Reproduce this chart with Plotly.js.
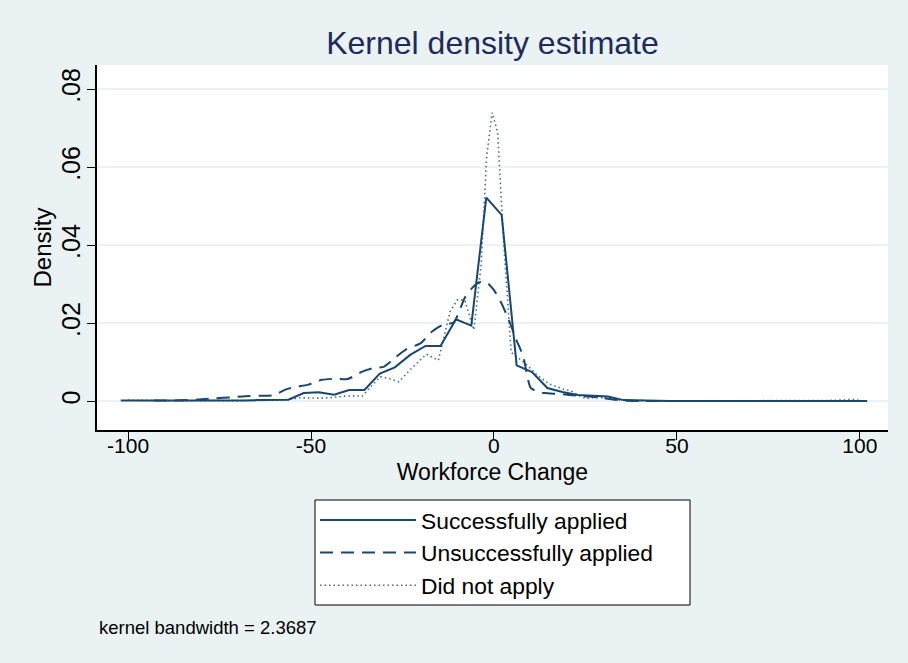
<!DOCTYPE html>
<html>
<head>
<meta charset="utf-8">
<script src="https://cdn.plot.ly/plotly-3.0.1.min.js"></script>
<style>html,body{margin:0;padding:0;background:#EAF2F3;}</style>
</head>
<body>
<div id="chart" style="width:908px;height:663px;"></div>
<script>
// Series names
var seriesNames = ['Successfully applied', 'Unsuccessfully applied', 'Did not apply'];

// Successfully applied (solid)
var xSuccess = [-102,-97.8,-93.7,-89.5,-85.3,-81.2,-77,-72.9,-68.7,-64.5,-60.4,-56.2,-52,-47.9,-43.7,-39.6,-35.4,-31.2,-27.1,-22.9,-18.7,-14.6,-10.4,-6.2,-2.1,2.1,6.2,10.4,14.6,18.7,22.9,27.1,31.2,35.4,39.6,43.7,47.9,52,56.2,60.4,64.5,68.7,72.9,77,81.2,85.3,89.5,93.7,97.8,102];
var ySuccess = [0.0002,0.0002,0.0001,0.0001,0.0001,0.0001,0.0001,0.0002,0.0002,0.0003,0.0004,0.0004,0.0021,0.0023,0.0017,0.0029,0.0029,0.0071,0.0087,0.0119,0.0142,0.0142,0.0210,0.0194,0.0522,0.0478,0.0092,0.0075,0.0034,0.0024,0.0016,0.0014,0.0012,0.0003,0.0002,0.0001,0.0001,0.0001,0.0001,0.0001,0.0001,0.0001,0.0001,0.0001,0.0001,0.0001,0.0001,0.0001,0.0001,0.0001];

// Unsuccessfully applied (dashed)
var xUnsucc = [-93,-88,-84,-80,-76,-72,-68,-64,-60,-57,-54,-51,-47,-43,-40,-36,-33,-30,-27,-24,-20,-17,-14,-11,-8,-6,-4,-2,0,2,4,6,8,10,12,14,17,20,23,26,30,35,40,45,50,55,60];
var yUnsucc = [0.0002,0.0002,0.0003,0.0005,0.0008,0.0010,0.0013,0.0014,0.0016,0.0030,0.0037,0.0042,0.0055,0.0058,0.0057,0.0076,0.0085,0.0089,0.0112,0.0133,0.0149,0.0178,0.0196,0.0202,0.0265,0.0290,0.0305,0.0305,0.0285,0.0252,0.0210,0.0160,0.0115,0.0035,0.0024,0.0021,0.0019,0.0017,0.0014,0.0012,0.0008,0.0002,0.0001,0.0001,0.0001,0.0001,0.0001];

// Did not apply (dotted)
var xNoApply = [-100,-96,-92,-88,-84,-80,-76,-72,-68,-64,-60,-56,-53,-50,-47,-44,-41,-38,-36,-34,-31,-28.5,-26,-23,-18.5,-15.2,-12,-10,-8,-5.5,-3.5,-2,-0.5,1,2.5,4.7,8.5,11.7,15,19,21,23,25,27,30,33,37,42,50,60,70,80,90,95,98,100];
var yNoApply = [0.0003,0.0002,0.0002,0.0001,0.0001,0.0002,0.0002,0.0001,0.0001,0.0002,0.0003,0.0005,0.0009,0.0008,0.0008,0.0010,0.0013,0.0014,0.0013,0.0034,0.0063,0.0058,0.0050,0.0080,0.0121,0.0105,0.0230,0.0260,0.0260,0.0183,0.0350,0.0627,0.0740,0.0690,0.0430,0.0125,0.0098,0.0068,0.0045,0.0031,0.0027,0.0016,0.0007,0.0009,0.0009,0.0004,0.0002,0.0001,0.0001,0.0001,0.0001,0.0001,0.0002,0.0003,0.0005,0.0002];

// Axis ticks
var xTickVals = [-100, -50, 0, 50, 100];
var xTickText = ['-100', '-50', '0', '50', '100'];
var yTickVals = [0, 0.02, 0.04, 0.06, 0.08];
var yTickText = ['0', '.02', '.04', '.06', '.08'];

var navy = '#1A476F';
var fontFam = 'Liberation Sans, Arial, sans-serif';

var traces = [
  {x: xSuccess, y: ySuccess, name: seriesNames[0], type: 'scatter', mode: 'lines',
   line: {color: navy, width: 2, dash: 'solid'}},
  {x: xUnsucc, y: yUnsucc, name: seriesNames[1], type: 'scatter', mode: 'lines',
   line: {color: navy, width: 2, dash: '13px,8px', shape: 'spline', smoothing: 0.6}},
  {x: xNoApply, y: yNoApply, name: seriesNames[2], type: 'scatter', mode: 'lines',
   line: {color: 'rgba(26,71,111,0.8)', width: 1.6, dash: '1.5px,3px'}}
];

var layout = {
  width: 908, height: 663,
  paper_bgcolor: '#EAF2F3',
  plot_bgcolor: '#FFFFFF',
  margin: {l: 97, r: 20, t: 65, b: 233, pad: 0},
  font: {family: fontFam, color: '#000000'},
  title: {text: 'Kernel density estimate', font: {family: fontFam, size: 32, color: '#1E2B5C'},
          x: 0.5, xref: 'paper', y: 0.935, yref: 'container', yanchor: 'middle'},
  xaxis: {
    range: [-108.5, 107.7], tickvals: xTickVals, ticktext: xTickText,
    ticks: 'outside', ticklen: 8, tickwidth: 1.2, tickcolor: '#000',
    ticklabelstandoff: -12,
    showline: true, linecolor: '#000', linewidth: 1.5,
    showgrid: false, zeroline: false,
    tickfont: {family: fontFam, size: 21, color: '#000'},
    title: {text: 'Workforce Change', font: {family: fontFam, size: 23, color: '#000'}, standoff: 8}
  },
  yaxis: {
    range: [-0.00736, 0.0862], tickvals: yTickVals, ticktext: yTickText, tickangle: -90,
    ticks: 'outside', ticklen: 8, tickwidth: 1.2, tickcolor: '#000',
    ticklabelstandoff: -3,
    showline: true, linecolor: '#000', linewidth: 1.5,
    showgrid: true, gridcolor: '#EAF2F3', gridwidth: 1.5, zeroline: false,
    tickfont: {family: fontFam, size: 25, color: '#000'},
    title: {text: ''}
  },
  legend: {
    orientation: 'v', x: 0.2756, xanchor: 'left', y: -0.188, yanchor: 'top',
    bgcolor: 'rgba(0,0,0,0)', borderwidth: 0,
    font: {family: fontFam, size: 22.8, color: '#000'},
    itemwidth: 96, tracegroupgap: 0
  },
  showlegend: true,
  shapes: [{
    type: 'rect', xref: 'paper', yref: 'paper',
    x0: 0.2756, x1: 0.7497, y0: -0.4795, y1: -0.1918,
    fillcolor: '#FFFFFF', line: {color: '#000', width: 1}, layer: 'below'
  }],
  annotations: [{
    text: 'Density', xref: 'paper', yref: 'paper',
    x: -0.0695, y: 0.5, xanchor: 'center', yanchor: 'middle', textangle: -90, showarrow: false,
    font: {family: fontFam, size: 24, color: '#000'}
  }, {
    text: 'kernel bandwidth = 2.3687', xref: 'paper', yref: 'paper',
    x: 0, y: -0.54, xanchor: 'left', yanchor: 'middle', showarrow: false,
    font: {family: fontFam, size: 18.5, color: '#000'}
  }]
};

Plotly.newPlot('chart', traces, layout, {displayModeBar: false, responsive: false});
</script>
</body>
</html>
